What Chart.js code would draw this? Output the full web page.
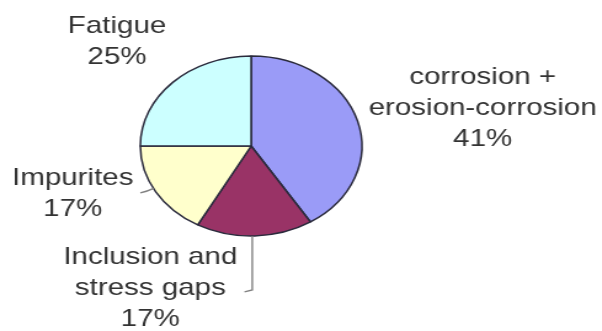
<!DOCTYPE html>
<html>
<head>
<meta charset="utf-8">
<script src="https://cdn.jsdelivr.net/npm/chart.js@4"></script>
<style>
  html, body { margin: 0; padding: 0; background: #fff; overflow: hidden; }
  #wrap { position: absolute; left: 0; top: 0; width: 489px; height: 331px; transform: scaleX(1.231); transform-origin: 0 0; }
</style>
</head>
<body>
<div id="wrap"><canvas id="c"></canvas></div>
<script>
// ---- data ----
const categories = ['corrosion + erosion-corrosion', 'Inclusion and stress gaps', 'Impurites', 'Fatigue'];
const values = [41, 17, 17, 25];
const labelLines = [
  ['corrosion +', 'erosion-corrosion', '41%'],
  ['Inclusion and', 'stress gaps', '17%'],
  ['Impurites', '17%'],
  ['Fatigue', '25%']
];
const colors = ['#9A9BF7', '#993366', '#FFFFCC', '#CCFFFF'];

// label anchors relative to pie centre, in units of radius (x: centre of text, y: first baseline)
const labelAnchors = [
  [2.09, -0.69],
  [-0.91, 1.31],
  [-1.61, 0.43],
  [-1.21, -1.26]
];

const labelPlugin = {
  id: 'labels',
  afterDraw(chart) {
    const arc = chart.getDatasetMeta(0).data[0];
    const cx = arc.x, cy = arc.y, r = arc.outerRadius;
    const ctx = chart.ctx;
    ctx.save();
    // leader lines
    ctx.strokeStyle = '#808080';
    ctx.lineWidth = 1.4;
    ctx.beginPath();
    ctx.moveTo(cx - 1.0 * r, cy + 0.52 * r);
    ctx.quadraticCurveTo(cx - 0.93 * r, cy + 0.5 * r, cx - 0.88 * r, cy + 0.47 * r);
    ctx.stroke();
    ctx.beginPath();
    ctx.moveTo(cx + 0.01 * r, cy + 1.0 * r);
    ctx.lineTo(cx + 0.01 * r, cy + 1.6 * r);
    ctx.lineTo(cx - 0.06 * r, cy + 1.62 * r);
    ctx.stroke();
    // texts
    ctx.fillStyle = '#333333';
    ctx.font = '24px "Liberation Sans", Arial, sans-serif';
    ctx.textAlign = 'center';
    ctx.textBaseline = 'alphabetic';
    labelLines.forEach((lines, i) => {
      const x = cx + labelAnchors[i][0] * r;
      const y0 = cy + labelAnchors[i][1] * r;
      lines.forEach((t, j) => ctx.fillText(t, x, y0 + j * 31));
    });
    ctx.restore();
  }
};

new Chart(document.getElementById('c'), {
  type: 'pie',
  data: {
    labels: categories,
    datasets: [{
      data: values,
      backgroundColor: colors,
      borderColor: '#2a2a3c',
      borderWidth: 1.5
    }]
  },
  options: {
    responsive: true,
    maintainAspectRatio: false,
    animation: false,
    radius: 90,
    layout: { padding: { left: 114, right: 195, top: 56, bottom: 95 } },
    plugins: { legend: { display: false }, tooltip: { enabled: false } }
  },
  plugins: [labelPlugin]
});
</script>
</body>
</html>
